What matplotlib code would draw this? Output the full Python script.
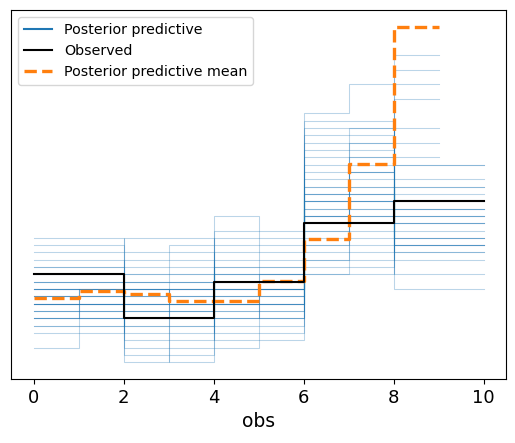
import numpy as np
import matplotlib.pyplot as plt
from matplotlib.lines import Line2D

# number of observations per draw
n_obs = 80

# observed data, counts in bins of width 2
obs_edges = [0, 2, 4, 6, 8, 10]
obs_counts = [14, 8, 13, 21, 24]

# posterior predictive draws that reach 10 -> bins of width 2
pp_edges_w2 = [0, 2, 4, 6, 8, 10]
pp_counts_w2 = [
    [12, 11, 12, 24, 20],
    [6, 14, 13, 27, 21],
    [7, 9, 15, 26, 23],
    [7, 12, 10, 33, 18],
    [8, 3, 17, 30, 22],
    [8, 13, 9, 28, 22],
    [9, 7, 14, 31, 19],
    [9, 16, 7, 22, 25],
    [10, 10, 11, 25, 24],
    [10, 8, 12, 21, 29],
    [10, 12, 16, 25, 17],
    [11, 5, 20, 23, 21],
    [11, 11, 13, 29, 16],
    [11, 17, 6, 24, 22],
    [12, 9, 8, 34, 17],
    [12, 13, 11, 20, 24],
    [12, 4, 18, 32, 14],
    [13, 10, 12, 22, 23],
    [13, 14, 10, 16, 27],
    [13, 6, 19, 23, 19],
    [14, 11, 14, 15, 26],
    [14, 8, 13, 26, 19],
    [15, 15, 5, 19, 26],
    [15, 7, 15, 25, 18],
    [16, 12, 12, 17, 23],
    [17, 19, 8, 18, 18],
    [18, 10, 9, 14, 29],
    [19, 9, 10, 24, 18],
    [9, 13, 11, 35, 12],
    [11, 12, 14, 22, 21],
]

# draws whose max is 9 -> bins of width 1
pp_edges_w1 = [0, 1, 2, 3, 4, 5, 6, 7, 8, 9]
pp_counts_w1 = [
    [2, 5, 6, 5, 4, 6, 10, 14, 22],
    [5, 5, 1, 9, 11, 5, 7, 12, 21],
    [4, 6, 5, 4, 5, 4, 18, 20, 20],
    [6, 5, 4, 6, 5, 7, 9, 15, 17],
    [5, 6, 5, 5, 6, 6, 12, 16, 16],
    [4, 4, 6, 5, 5, 6, 11, 17, 15],
    [5, 4, 4, 1, 2, 5, 8, 14, 19],
]

# mean of the pooled draws, width 1 bins
mean_edges = [0, 1, 2, 3, 4, 5, 6, 7, 8, 9]
mean_density = [0.0674, 0.0734, 0.0711, 0.0648, 0.0648, 0.0816, 0.1176, 0.1821, 0.299]


def step(ax, edges, dens, **kw):
    dens = np.asarray(dens, dtype=float)
    ax.plot(edges, np.concatenate((dens[:1], dens)), drawstyle='steps-pre', **kw)


fig = plt.figure(figsize=(5.15, 4.43), dpi=100)
ax = fig.add_axes([11/515, 64/443, 495/515, 369/443])

for c in pp_counts_w2:
    step(ax, pp_edges_w2, np.array(c) / (n_obs * 2), color='C0', alpha=0.3, lw=0.75, zorder=1)
for c in pp_counts_w1:
    step(ax, pp_edges_w1, np.array(c) / (n_obs * 1), color='C0', alpha=0.3, lw=0.75, zorder=1)

step(ax, obs_edges, np.array(obs_counts) / (n_obs * 2), color='k', lw=1.5, zorder=3)
step(ax, mean_edges, mean_density, color='C1', ls='--', lw=2.4, zorder=2)

ax.set_yticks([])
ax.set_xticks([0, 2, 4, 6, 8, 10])
ax.tick_params(axis='x', labelsize=13)
ax.set_xlabel('obs', fontsize=13.5)

handles = [Line2D([], [], color='C0', lw=1.5),
           Line2D([], [], color='k', lw=1.5),
           Line2D([], [], color='C1', ls='--', lw=2.4)]
labels = ['Posterior predictive', 'Observed', 'Posterior predictive mean']
ax.legend(handles, labels, loc='upper left', fontsize=10.3)

fig.savefig('out.png', dpi=100)
